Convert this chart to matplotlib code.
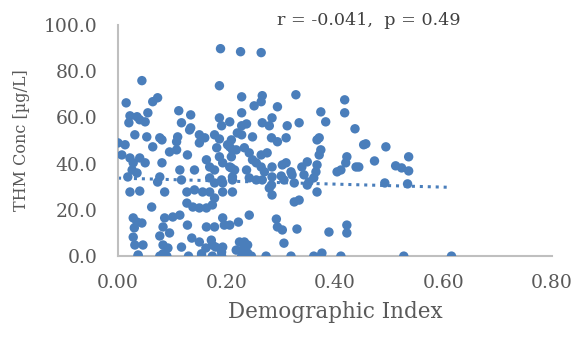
import matplotlib
matplotlib.use("Agg")
import matplotlib.pyplot as plt
import numpy as np

# Demographic index (x) and THM concentration (y)
demo_index = [
    0.189, 0.044, 0.187, 0.015, 0.064, 0.073, 0.112, 0.022, 0.035, 0.055,
    0.020, 0.040, 0.050, 0.117, 0.134, 0.134, 0.187, 0.206, 0.191,
    0.031, 0.053, 0.077, 0.110, 0.150, 0.160, 0.178, 0.187, 0.132, 0.209,
    0.226, 0.264, 0.228, 0.266, 0.328, 0.418, 0.251, 0.264, 0.294, 0.228,
    0.374, 0.418, 0.383, 0.437, 0.228, 0.237, 0.266, 0.279, 0.284, 0.312,
    0.334, 0.228, 0.248, 0.283, 0.310, 0.371,
    0.000, 0.013, 0.064, 0.081, 0.095, 0.108, 0.108, 0.128, 0.150, 0.182,
    0.202, 0.211, 0.209, 0.007, 0.022, 0.040, 0.050, 0.028, 0.026, 0.018,
    0.035, 0.081, 0.114, 0.141, 0.163, 0.169, 0.178, 0.187, 0.193, 0.209,
    0.211, 0.191, 0.169, 0.178, 0.193, 0.077, 0.073, 0.117, 0.022, 0.040,
    0.086, 0.127, 0.141, 0.156, 0.169, 0.127, 0.138, 0.150, 0.163, 0.174,
    0.178, 0.062, 0.028, 0.035, 0.044, 0.086, 0.101, 0.114, 0.083, 0.128,
    0.163, 0.178, 0.193, 0.196, 0.028, 0.077, 0.095, 0.136, 0.150, 0.172,
    0.174, 0.193, 0.031, 0.046, 0.083, 0.092, 0.117,
    0.030, 0.037, 0.083, 0.154, 0.162, 0.191, 0.180, 0.193, 0.222,
    0.220, 0.294, 0.367, 0.206, 0.218, 0.233, 0.242, 0.248, 0.264, 0.275,
    0.264, 0.255, 0.270, 0.284, 0.303, 0.310, 0.319, 0.339, 0.349, 0.367,
    0.371, 0.374, 0.365, 0.361, 0.343, 0.321, 0.422, 0.420, 0.411, 0.404,
    0.439, 0.206, 0.215, 0.211, 0.237, 0.242, 0.255, 0.266, 0.284, 0.301,
    0.306, 0.325, 0.352, 0.349, 0.367, 0.283, 0.279, 0.284, 0.211, 0.325,
    0.334, 0.242, 0.206, 0.292, 0.294, 0.303, 0.330, 0.389, 0.422, 0.422,
    0.306, 0.224, 0.233, 0.239, 0.229, 0.218, 0.239, 0.376,
    0.453, 0.457, 0.494, 0.444, 0.473, 0.512, 0.523, 0.536, 0.536, 0.492,
    0.534,
    0.037, 0.077, 0.090, 0.130, 0.154, 0.174, 0.191, 0.228, 0.246, 0.273,
    0.319, 0.361, 0.374, 0.411, 0.527, 0.615,
]
thm_conc = [
    89.6, 75.8, 73.6, 66.2, 66.7, 68.4, 62.8, 60.6, 60.2, 61.9,
    57.6, 58.9, 58.0, 57.6, 61.0, 55.4, 59.7, 58.0, 56.3,
    52.4, 51.5, 51.1, 51.5, 52.4, 51.1, 52.4, 50.6, 54.5, 50.2,
    88.3, 87.9, 68.8, 69.3, 69.7, 67.5, 64.9, 66.7, 64.5, 61.9,
    62.3, 61.9, 58.0, 55.0, 56.3, 57.1, 57.6, 56.3, 59.7, 56.3,
    57.6, 52.4, 51.5, 51.1, 51.1, 51.1,
    48.9, 48.1, 47.2, 50.2, 45.0, 49.4, 45.9, 43.7, 48.9, 46.8,
    48.1, 45.9, 42.9, 43.7, 42.4, 42.4, 40.3, 40.3, 37.2, 34.2,
    35.9, 40.3, 37.2, 37.2, 41.6, 38.5, 37.2, 42.9, 40.3, 38.1,
    34.2, 32.9, 33.8, 31.6, 31.6, 34.2, 32.0, 32.9, 27.7, 28.1,
    27.7, 27.7, 28.6, 27.7, 27.7, 22.9, 21.2, 20.8, 20.8, 22.1,
    25.1, 21.2, 16.5, 14.7, 14.3, 16.5, 16.9, 17.7, 12.6, 13.4,
    12.6, 12.6, 16.5, 13.4, 8.2, 8.7, 10.0, 7.8, 6.1, 6.9,
    4.8, 3.9, 4.8, 4.8, 4.8, 3.5, 3.9,
    12.2, 0.5, 1.0, 1.0, 3.5, 1.7, 3.9, 27.7, 14.7,
    53.2, 49.4, 50.2, 47.2, 45.9, 46.8, 44.6, 41.6, 43.7, 44.6,
    38.5, 40.3, 36.4, 38.5, 39.4, 40.3, 36.4, 38.5, 40.7, 39.4,
    43.7, 45.9, 36.4, 33.8, 35.1, 35.1, 42.9, 40.3, 37.2, 36.4,
    38.5, 38.5, 37.2, 32.9, 37.2, 33.8, 32.9, 32.9, 34.2, 34.6,
    32.9, 31.6, 32.0, 30.7, 27.7, 30.7, 29.4, 26.4, 27.7, 23.4,
    24.2, 17.7, 13.4, 16.0, 12.6, 11.3, 11.7, 10.4, 13.4, 10.0,
    5.6, 6.1, 6.1, 4.8, 2.6, 2.6, 1.3, 1.3,
    48.1, 48.5, 47.2, 38.5, 41.1, 39.0, 38.1, 42.9, 36.8, 31.6,
    31.2,
    0.0, 0.0, 0.0, 0.0, 0.0, 0.0, 0.0, 0.0, 0.0, 0.0,
    0.0, 0.0, 0.0, 0.0, 0.0, 0.0,
]

# Linear trendline shown on the chart
trend_intercept = 33.7
trend_slope = -6.5
trend_x = [0.0, 0.615]

x_ticks = [0.0, 0.2, 0.4, 0.6, 0.8]
y_ticks = [0, 20, 40, 60, 80, 100]
annotation = "r = -0.041,  p = 0.49"

blue = "#4a7ebb"
plt.rcParams["font.family"] = ["DejaVu Serif"]

fig = plt.figure(figsize=(5.73, 3.37), dpi=100)
ax = fig.add_axes([0.206, 0.240, 0.757, 0.687])

ax.scatter(demo_index, thm_conc, s=46, color=blue, edgecolors="none", zorder=3)
tx = np.array(trend_x)
ax.plot(tx, trend_intercept + trend_slope * tx, linestyle=(0, (1, 1.6)),
        color=blue, linewidth=2.2, zorder=2)

ax.set_xlim(0, 0.8)
ax.set_ylim(0, 100)
ax.set_xticks(x_ticks)
ax.set_yticks(y_ticks)
ax.set_xticklabels([f"{v:.2f}" for v in x_ticks])
ax.set_yticklabels([f"{v:.1f}" for v in y_ticks])
ax.tick_params(length=0, labelsize=13.5, colors="#595959")
ax.tick_params(axis="y", pad=15)
ax.tick_params(axis="x", pad=13)

for side in ["top", "right"]:
    ax.spines[side].set_visible(False)
for side in ["left", "bottom"]:
    ax.spines[side].set_color("#bfbfbf")
    ax.spines[side].set_linewidth(1.5)

ax.set_xlabel("Demographic Index", fontsize=15.5, color="#595959", labelpad=6)
ax.set_ylabel("THM Conc [µg/L]", fontsize=11.5, color="#595959", labelpad=10)

fig.text(0.484, 0.94, annotation, fontsize=12.6, color="#404040",
         ha="left", va="center")

fig.savefig("out.png", dpi=100)
